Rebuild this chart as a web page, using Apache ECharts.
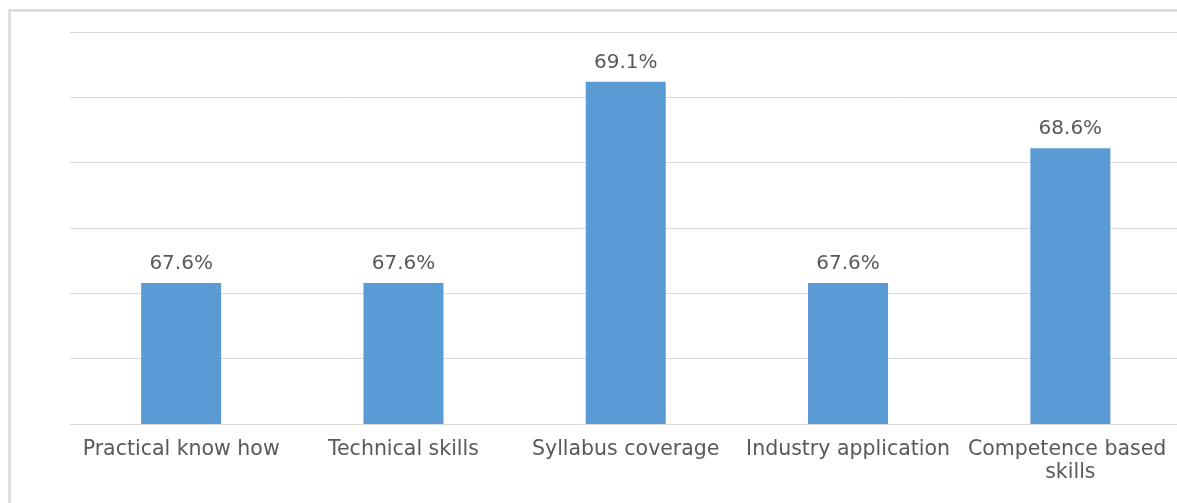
<!DOCTYPE html>
<html>
<head>
<meta charset="utf-8">
<script src="https://cdn.jsdelivr.net/npm/echarts@6/dist/echarts.min.js"></script>
<style>
html,body{margin:0;padding:0;background:#fff;overflow:hidden;width:1177px;height:503px;}
#chart{width:1190px;height:503px;}
</style>
</head>
<body>
<div id="chart"></div>
<script>
const categories = ['Practical know how', 'Technical skills', 'Syllabus coverage', 'Industry application', 'Competence based skills'];
const values = [67.58, 67.58, 69.12, 67.58, 68.61];
const axisMin = 66.5;
const axisMax = 69.5;
const axisStep = 0.5;

const chart = echarts.init(document.getElementById('chart'));
chart.setOption({
  animation: false,
  backgroundColor: '#ffffff',
  graphic: [{
    type: 'rect',
    silent: true,
    shape: { x: 9.5, y: 10.5, width: 1300, height: 600 },
    style: { fill: 'none', stroke: '#d9d9d9', lineWidth: 2.5 }
  }],
  grid: { left: 70, top: 32, width: 1111.5, height: 392, containLabel: false },
  xAxis: {
    type: 'category',
    data: categories,
    axisTick: { show: false },
    axisLine: { show: true, lineStyle: { color: '#d9d9d9', width: 1 } },
    axisLabel: {
      interval: 0,
      margin: 14,
      width: 222,
      overflow: 'break',
      lineHeight: 23,
      color: '#595959',
      fontFamily: 'DejaVu Sans',
      fontSize: 20.5
    }
  },
  yAxis: {
    type: 'value',
    min: axisMin,
    max: axisMax,
    interval: axisStep,
    axisLabel: { show: false },
    axisLine: { show: false },
    axisTick: { show: false },
    splitLine: { show: true, lineStyle: { color: '#d9d9d9', width: 1 } }
  },
  series: [{
    type: 'bar',
    data: values,
    barWidth: 80,
    itemStyle: { color: '#5b9bd5' },
    label: {
      show: true,
      position: 'top',
      distance: 9,
      color: '#595959',
      fontFamily: 'DejaVu Sans',
      fontSize: 20,
      formatter: p => p.value.toFixed(1) + '%'
    }
  }]
});
</script>
</body>
</html>
